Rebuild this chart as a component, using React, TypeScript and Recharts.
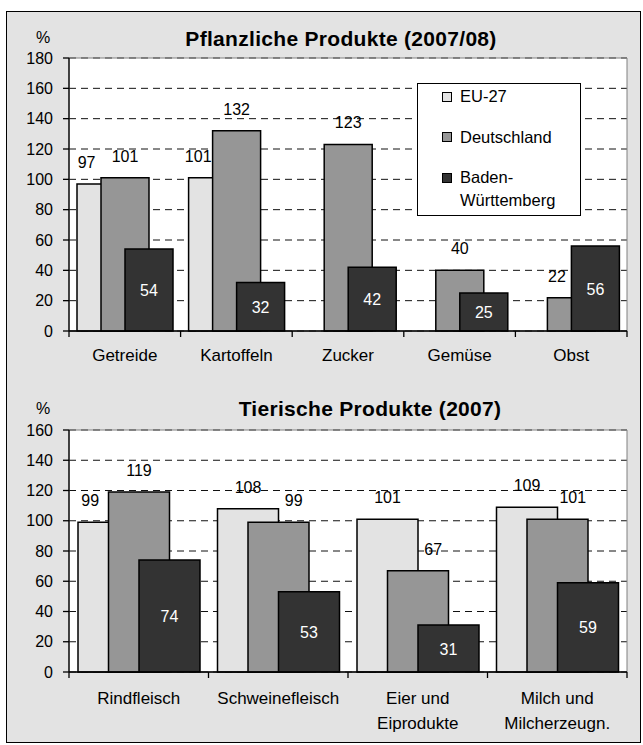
import React from "react";
import {
  Bar,
  BarChart,
  CartesianGrid,
  LabelList,
  Legend,
  ReferenceArea,
  XAxis,
  YAxis,
} from "recharts";

const FONT = '"Liberation Sans", Arial, Helvetica, sans-serif';

// Pflanzliche Produkte (2007/08)
const plantCategories = ["Getreide", "Kartoffeln", "Zucker", "Gemüse", "Obst"];
const plantEU = [97, 101, null, null, null];
const plantDE = [101, 132, 123, 40, 22];
const plantBW = [54, 32, 42, 25, 56];
const plantTicks = [0, 20, 40, 60, 80, 100, 120, 140, 160, 180];

// Tierische Produkte (2007)
const animalCategories = [
  "Rindfleisch",
  "Schweinefleisch",
  "Eier und\nEiprodukte",
  "Milch und\nMilcherzeugn.",
];
const animalEU = [99, 108, 101, 109];
const animalDE = [119, 99, 67, 101];
const animalBW = [74, 53, 31, 59];
const animalTicks = [0, 20, 40, 60, 80, 100, 120, 140, 160];

const seriesNames = ["EU-27", "Deutschland", "Baden-Württemberg"];
const COLORS = { eu: "#e3e3e3", de: "#969696", bw: "#333333" };
const PLOT_W = 558;

type Vals = (number | null)[];

const box = (p: any) => {
  const v = p.viewBox && p.viewBox.width != null ? p.viewBox : p;
  return { x: +v.x, y: +v.y, w: +v.width, h: +v.height };
};

// label above a bar, shifted onto the part of the bar that stays visible
function topLabel(kind: "eu" | "de", eu: Vals, de: Vals, bw: Vals) {
  return (p: any) => {
    if (p.value == null) return null;
    const { x, y, w } = box(p);
    const i = p.index;
    let cx = x + w / 2;
    if (kind === "eu") {
      if ((de[i] ?? 0) > (eu[i] ?? 0)) cx = x + w * 0.2;
    } else {
      if ((eu[i] ?? 0) > (de[i] ?? 0)) cx = x + w * 0.75;
      else if ((bw[i] ?? 0) > (de[i] ?? 0)) cx = x + w * 0.2;
    }
    return (
      <text x={cx} y={y - 16} textAnchor="middle" fontSize={16} fontFamily={FONT} fill="#000">
        {p.value}
      </text>
    );
  };
}

const innerLabel = (p: any) => {
  if (p.value == null) return null;
  const { x, y, w, h } = box(p);
  return (
    <text x={x + w / 2} y={y + h / 2 + 6} textAnchor="middle" fontSize={16} fontFamily={FONT} fill="#fff">
      {p.value}
    </text>
  );
};

function CategoryTick(props: any) {
  const { x, y, payload, index, band, count, first, gap } = props;
  const lines = String(payload.value).split("\n");
  return (
    <g>
      <line x1={x - band / 2} x2={x - band / 2} y1={y} y2={y + 6} stroke="#000" strokeWidth={1.3} />
      {index === count - 1 && (
        <line x1={x + band / 2} x2={x + band / 2} y1={y} y2={y + 6} stroke="#000" strokeWidth={1.3} />
      )}
      <text x={x} y={y + first} textAnchor="middle" fontSize={17} fontFamily={FONT} fill="#000">
        {lines.map((l, i) => (
          <tspan key={i} x={x} dy={i === 0 ? 0 : gap}>
            {l}
          </tspan>
        ))}
      </text>
    </g>
  );
}

const LegendBox = () => (
  <div
    style={{
      width: 164,
      height: 133,
      boxSizing: "border-box",
      border: "1px solid #000",
      background: "#fff",
      position: "relative",
      fontFamily: FONT,
      fontSize: 16.5,
      color: "#000",
    }}
  >
    {seriesNames.map((n, i) => {
      const cy = 12.5 + i * 40.5;
      const fill = [COLORS.eu, COLORS.de, COLORS.bw][i];
      return (
        <React.Fragment key={n}>
          <div
            style={{
              position: "absolute",
              left: 24,
              top: cy - 5,
              width: 8,
              height: 8,
              background: fill,
              border: "1px solid #000",
            }}
          />
          <div
            style={{
              position: "absolute",
              left: 42,
              top: cy - 10,
              width: 112,
              lineHeight: "23px",
              marginTop: -1.5,
              whiteSpace: "normal",
            }}
          >
            {n}
          </div>
        </React.Fragment>
      );
    })}
  </div>
);

function Panel(props: {
  categories: string[];
  eu: Vals;
  de: Vals;
  bw: Vals;
  ticks: number[];
  top: number;
  height: number;
  marginTop: number;
  marginBottom: number;
  axisHeight: number;
  barSize: number;
  first: number;
  legend?: boolean;
}) {
  const { categories, eu, de, bw, ticks } = props;
  const data = categories.map((name, i) => ({ name, eu: eu[i], de: de[i], bw: bw[i] }));
  const max = ticks[ticks.length - 1];
  const band = PLOT_W / categories.length;
  return (
    <div style={{ position: "absolute", left: 0, top: props.top }}>
      <BarChart
        width={643}
        height={props.height}
        data={data}
        margin={{ top: props.marginTop, right: 16, bottom: props.marginBottom, left: 9 }}
        barSize={props.barSize}
        barGap={-props.barSize / 2}
      >
        <CartesianGrid vertical={false} stroke="#111" strokeDasharray="7 5" fill="#fff" />
        <ReferenceArea y1={0} y2={max} fill="none" stroke="#808080" ifOverflow="visible" />
        <XAxis
          dataKey="name"
          interval={0}
          height={props.axisHeight}
          tickLine={false}
          tickSize={0}
          tickMargin={0}
          axisLine={{ stroke: "#000", strokeWidth: 1.3 }}
          tick={(t: any) => (
            <CategoryTick {...t} band={band} count={categories.length} first={props.first} gap={25} />
          )}
        />
        <YAxis
          domain={[0, max]}
          ticks={ticks}
          interval={0}
          width={60}
          tickSize={6}
          tickMargin={10}
          axisLine={{ stroke: "#000", strokeWidth: 1.3 }}
          tickLine={{ stroke: "#000", strokeWidth: 1.3 }}
          tick={{ fontSize: 16, fill: "#000", fontFamily: FONT }}
        />
        {props.legend && (
          <Legend
            layout="vertical"
            align="center"
            verticalAlign="middle"
            content={() => <LegendBox />}
            wrapperStyle={{ position: "absolute", left: 417, top: 83, width: 164, height: 133 }}
          />
        )}
        <Bar dataKey="eu" name={seriesNames[0]} fill={COLORS.eu} stroke="#000" strokeWidth={1.5} isAnimationActive={false}>
          <LabelList dataKey="eu" content={topLabel("eu", eu, de, bw)} />
        </Bar>
        <Bar dataKey="de" name={seriesNames[1]} fill={COLORS.de} stroke="#000" strokeWidth={1.5} isAnimationActive={false}>
          <LabelList dataKey="de" content={topLabel("de", eu, de, bw)} />
        </Bar>
        <Bar dataKey="bw" name={seriesNames[2]} fill={COLORS.bw} stroke="#000" strokeWidth={1.5} isAnimationActive={false}>
          <LabelList dataKey="bw" content={innerLabel} />
        </Bar>
      </BarChart>
    </div>
  );
}

const textStyle: React.CSSProperties = {
  position: "absolute",
  fontFamily: FONT,
  color: "#000",
  whiteSpace: "nowrap",
  lineHeight: 1,
};

export default function App() {
  return (
    <div style={{ position: "absolute", left: 0, top: 0, width: 643, height: 745 }}>
      <div
        style={{
          position: "absolute",
          left: 6,
          top: 11,
          width: 635,
          height: 732,
          boxSizing: "border-box",
          border: "1px solid #000",
          background: "#e3e3e3",
        }}
      />
      <Panel
        categories={plantCategories}
        eu={plantEU}
        de={plantDE}
        bw={plantBW}
        ticks={plantTicks}
        top={0}
        height={380}
        marginTop={58}
        marginBottom={9}
        axisHeight={40}
        barSize={48}
        first={30}
        legend
      />
      <Panel
        categories={animalCategories}
        eu={animalEU}
        de={animalDE}
        bw={animalBW}
        ticks={animalTicks}
        top={380}
        height={365}
        marginTop={50}
        marginBottom={13}
        axisHeight={60}
        barSize={61}
        first={32}
      />
      <div style={{ ...textStyle, left: 0, width: 682, top: 28, textAlign: "center", fontSize: 21, fontWeight: "bold", letterSpacing: 0.3 }}>
        Pflanzliche Produkte (2007/08)
      </div>
      <div style={{ ...textStyle, left: 0, width: 740, top: 398, textAlign: "center", fontSize: 21, fontWeight: "bold", letterSpacing: 0.3 }}>
        Tierische Produkte (2007)
      </div>
      <div style={{ ...textStyle, left: 36, top: 30, fontSize: 16 }}>%</div>
      <div style={{ ...textStyle, left: 36, top: 401, fontSize: 16 }}>%</div>
    </div>
  );
}
